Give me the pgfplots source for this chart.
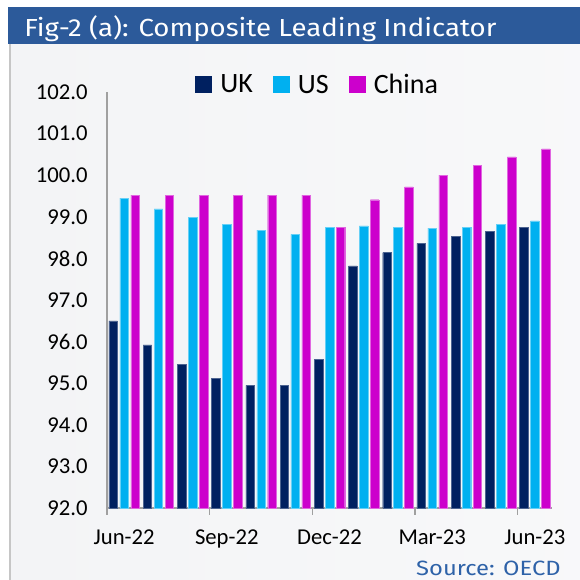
\documentclass[border=0pt]{standalone}
\usepackage{pgfplots}
\pgfplotsset{compat=1.18}
\usepackage{fontspec}
\setmainfont{Carlito}
\newfontfamily\titlefont{Fira Sans}

\definecolor{ukc}{HTML}{002060}
\definecolor{usc}{HTML}{00B0F0}
\definecolor{cnc}{HTML}{CC00CC}
\definecolor{titlebg}{HTML}{2C5A9A}
\definecolor{srcc}{HTML}{2E62A8}
\definecolor{panelbg}{HTML}{F3F4F6}
\definecolor{axisgray}{HTML}{A0A0A0}

% px -> pt (580 px picture)
\def\pxu{0.75pt}

\begin{document}
\begin{tikzpicture}
% frame and title bar
\fill[white] (0,0) rectangle (580*\pxu,-580*\pxu);
\shade[left color=panelbg, right color=panelbg!60!white] (10*\pxu,-44*\pxu) rectangle (580*\pxu,-580*\pxu);
\draw[axisgray!60, line width=1.2pt] (10*\pxu,-44*\pxu) -- (10*\pxu,-580*\pxu);
\fill[titlebg] (8*\pxu,-7*\pxu) rectangle (580*\pxu,-44*\pxu);
\node[anchor=base west, inner sep=0pt, text=white, font=\titlefont\fontsize{18.5}{20}\selectfont]
  at (24*\pxu,-37*\pxu) {\scalebox{1.12}[1]{Fig-2 (a): Composite Leading Indicator}};
\node[anchor=base east, inner sep=0pt, text=srcc, font=\titlefont\fontsize{15.5}{18}\selectfont]
  at (561*\pxu,-575*\pxu) {\scalebox{1.15}[1]{Source: OECD}};

\begin{axis}[
    at={(107*\pxu,-508*\pxu)}, anchor=south west,
    scale only axis,
    width=445*\pxu, height=416*\pxu,
    xmin=-0.5, xmax=12.5,
    ymin=92, ymax=102,
    ytick={92,93,...,102},
    xtick={0,3,6,9,12},
    xticklabels={Jun-22,Sep-22,Dec-22,Mar-23,Jun-23},
    minor xtick={-0.5,2.5,5.5,8.5,11.5},
    axis x line*=bottom, axis y line*=left,
    axis line style={axisgray, line width=1pt, -},
    tick align=outside,
    major tick length=0pt, minor tick length=5pt,
    minor tick style={axisgray, line width=1pt},
    /pgf/number format/assume math mode=true,
    yticklabel style={font=\fontsize{17}{17}\selectfont, xshift=-11pt},
    yticklabel style={/pgf/number format/fixed, /pgf/number format/fixed zerofill,
        /pgf/number format/precision=1},
    x tick label style={font=\fontsize{17}{17}\selectfont, yshift=-13pt},
    ybar, bar width=0.25,
    legend style={at={(0.474,1.017)}, anchor=center, draw=none, fill=none,
        legend columns=-1, font=\fontsize{21}{21}\selectfont,
        /tikz/every odd column/.append style={column sep=4pt},
        /tikz/every even column/.append style={column sep=13pt}},
    legend image code/.code={\path[#1, draw=none] (0pt,-6.4pt) rectangle (12.8pt,6.4pt);},
]
\addplot[fill=ukc, draw=ukc!70!white, line width=0.3pt, bar shift=-0.32] coordinates {
    (0,96.50) (1,95.92) (2,95.45) (3,95.11) (4,94.95) (5,94.95) (6,95.57)
    (7,97.82) (8,98.14) (9,98.36) (10,98.53) (11,98.65) (12,98.75)
};
\addlegendentry{UK}
\addplot[fill=usc, draw=usc!60!white, line width=0.3pt, bar shift=0] coordinates {
    (0,99.45) (1,99.19) (2,98.99) (3,98.82) (4,98.68) (5,98.58) (6,98.74)
    (7,98.78) (8,98.75) (9,98.73) (10,98.75) (11,98.82) (12,98.90)
};
\addlegendentry{US}
\addplot[fill=cnc, draw=cnc!60!white, line width=0.3pt, bar shift=0.32] coordinates {
    (0,99.52) (1,99.52) (2,99.52) (3,99.52) (4,99.52) (5,99.52) (6,98.75)
    (7,99.41) (8,99.72) (9,100.00) (10,100.24) (11,100.44) (12,100.63)
};
\addlegendentry{China}
\end{axis}
\pgfresetboundingbox
\useasboundingbox (0,0) rectangle (580*\pxu,-580*\pxu);
\end{tikzpicture}
\end{document}
